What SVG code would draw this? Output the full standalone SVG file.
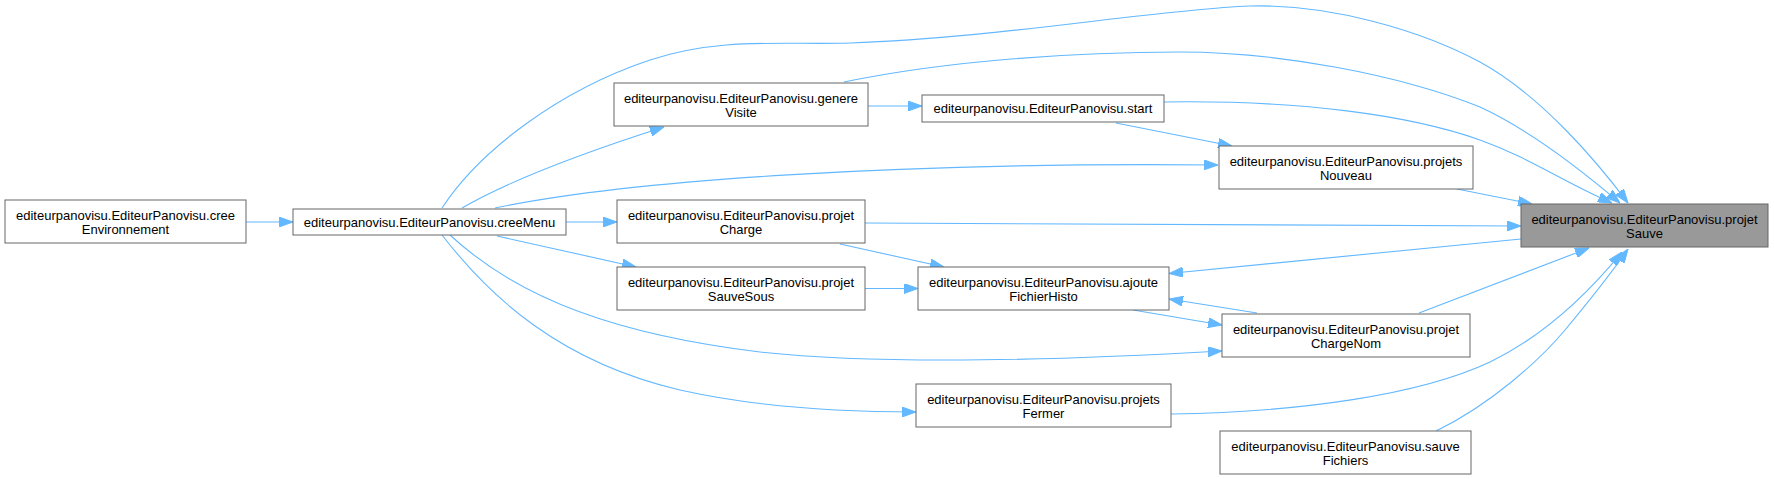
<svg xmlns="http://www.w3.org/2000/svg" width="1774" height="479" viewBox="0 0 1774 479">
<style>
.n rect{fill:#ffffff;stroke:#666666;stroke-width:1}
.n.h rect{fill:#999999}
.n text{font-family:"Liberation Sans",Arial,sans-serif;font-size:13px;fill:#000000;text-anchor:middle}
#edges path{fill:none;stroke:#63b8ff;stroke-width:1.1;marker-end:url(#ah)}
</style>
<defs>
<marker id="ah" viewBox="0 0 14 10" refX="14" refY="5" markerWidth="14" markerHeight="10" markerUnits="userSpaceOnUse" orient="auto">
<path d="M0,0 L14,5 L0,10 z" fill="#63b8ff" stroke="#63b8ff" stroke-width="1"/>
</marker>
</defs>
<rect width="1774" height="479" fill="#ffffff"/>
<g id="edges">
<path d="M246,222 L293,222"/>
<path d="M462,208 C500,186 570,157 664,127"/>
<path d="M566,222 L617,222"/>
<path d="M497,236 L636,267"/>
<path d="M495,208 C630,180 900,162 1218,165"/>
<path d="M442,208 C480,150 560,90 650,60 C720,37 780,45 850,43 C1000,38 1150,10 1250,6 C1330,4 1420,30 1480,62 C1542,96 1598,163 1628,203"/>
<path d="M868,106 L922,106"/>
<path d="M844,82 C950,60 1080,52 1180,52 C1280,52 1400,75 1480,107 C1530,130 1580,169 1620,203"/>
<path d="M1164,102 C1300,100 1410,115 1480,140 C1530,158 1560,180 1612,203"/>
<path d="M1116,123 L1232,146"/>
<path d="M1457,189 L1532,204"/>
<path d="M865,223 L1521,226"/>
<path d="M840,244 L944,267"/>
<path d="M865,288.5 L918,288.5"/>
<path d="M1521,239 L1169,273.5"/>
<path d="M1257,313 L1169,299"/>
<path d="M1133,310 L1222,325"/>
<path d="M1419,313 L1589,248"/>
<path d="M450,235 C520,300 620,335 760,352 C900,367 1100,358 1222,351"/>
<path d="M442,235 C490,297 560,362 680,390 C760,408 850,412 916,412"/>
<path d="M1171,414 C1300,412 1420,395 1490,362 C1550,333 1595,285 1622,252"/>
<path d="M1436,431 C1490,405 1540,360 1565,330 C1590,300 1610,275 1628,249"/>
</g>
<g id="creeEnvironnement" class="n"><rect x="5" y="200" width="241" height="43"/><text x="125.5" y="219.5">editeurpanovisu.EditeurPanovisu.cree</text><text x="125.5" y="234">Environnement</text></g>
<g id="creeMenu" class="n"><rect x="293" y="209" width="273" height="26"/><text x="429.5" y="226.5">editeurpanovisu.EditeurPanovisu.creeMenu</text></g>
<g id="genereVisite" class="n"><rect x="614" y="83" width="254" height="43"/><text x="741" y="102.5">editeurpanovisu.EditeurPanovisu.genere</text><text x="741" y="117">Visite</text></g>
<g id="start" class="n"><rect x="922" y="95" width="242" height="27"/><text x="1043" y="112.5">editeurpanovisu.EditeurPanovisu.start</text></g>
<g id="projetsNouveau" class="n"><rect x="1219" y="146" width="254" height="43"/><text x="1346" y="165.5">editeurpanovisu.EditeurPanovisu.projets</text><text x="1346" y="180">Nouveau</text></g>
<g id="projetCharge" class="n"><rect x="617" y="200" width="248" height="43"/><text x="741" y="219.5">editeurpanovisu.EditeurPanovisu.projet</text><text x="741" y="234">Charge</text></g>
<g id="projetSauve" class="n h"><rect x="1521" y="204" width="247" height="43"/><text x="1644.5" y="223.5">editeurpanovisu.EditeurPanovisu.projet</text><text x="1644.5" y="238">Sauve</text></g>
<g id="projetSauveSous" class="n"><rect x="617" y="267" width="248" height="43"/><text x="741" y="286.5">editeurpanovisu.EditeurPanovisu.projet</text><text x="741" y="301">SauveSous</text></g>
<g id="ajouteFichierHisto" class="n"><rect x="918" y="267" width="251" height="43"/><text x="1043.5" y="286.5">editeurpanovisu.EditeurPanovisu.ajoute</text><text x="1043.5" y="301">FichierHisto</text></g>
<g id="projetChargeNom" class="n"><rect x="1222" y="314" width="248" height="43"/><text x="1346" y="333.5">editeurpanovisu.EditeurPanovisu.projet</text><text x="1346" y="348">ChargeNom</text></g>
<g id="projetsFermer" class="n"><rect x="916" y="384" width="255" height="43"/><text x="1043.5" y="403.5">editeurpanovisu.EditeurPanovisu.projets</text><text x="1043.5" y="418">Fermer</text></g>
<g id="sauveFichiers" class="n"><rect x="1220" y="431" width="251" height="43"/><text x="1345.5" y="450.5">editeurpanovisu.EditeurPanovisu.sauve</text><text x="1345.5" y="465">Fichiers</text></g>
</svg>
